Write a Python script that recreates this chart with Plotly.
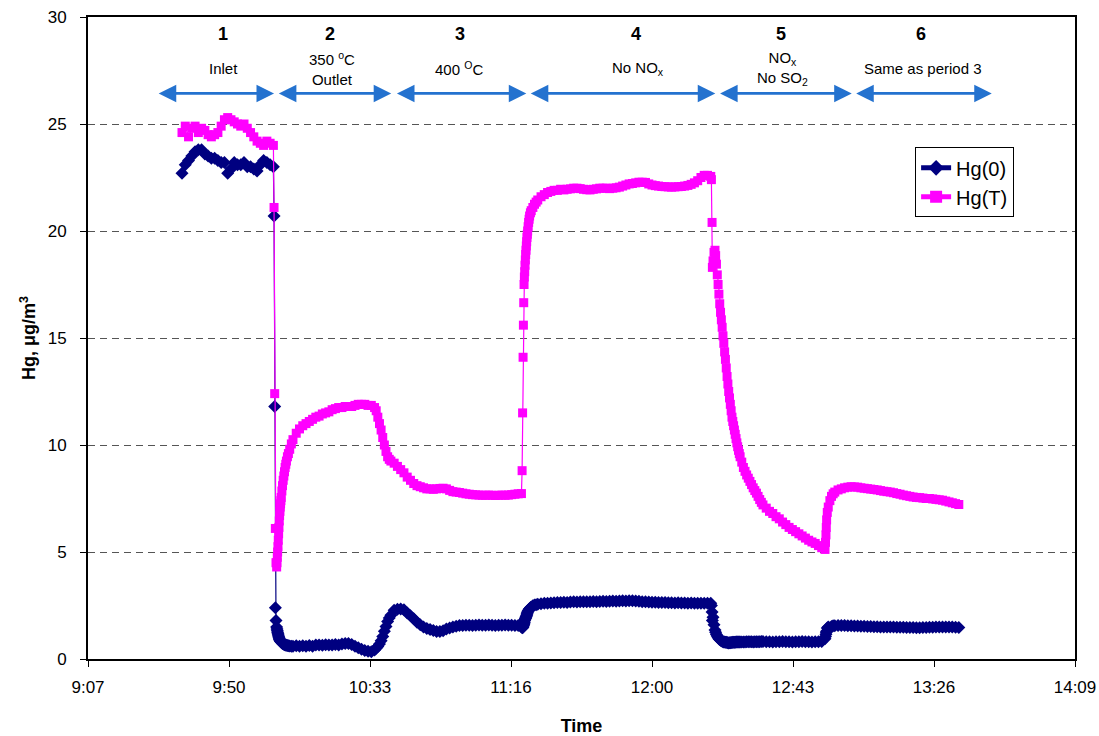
import plotly.graph_objects as go

# ---------------- data (time in minutes after midnight) ----------------
time_min = [
    576, 577, 578, 579, 580, 581, 582, 583, 584, 585, 586, 587, 588, 589, 590,
    591, 592, 593, 594, 595, 596, 597, 598, 599, 600, 601, 602, 603, 604,
    604.2, 604.4, 604.6, 604.8,
    605.0, 605.1, 605.2, 605.3, 605.4, 605.5, 605.6, 605.7, 605.8, 605.9, 606.0,
    606.1, 606.2, 606.3, 606.4, 606.6, 606.8, 607.0, 607.2, 607.4, 607.6, 607.8,
    608.0, 608.3, 608.6, 609.0, 609.5, 610.0,
    611, 612, 613, 614, 615, 616, 617, 618, 619, 620, 621, 622, 623,
    624, 625, 626, 627, 628, 629, 630, 631, 632, 633, 634,
    635, 635.5, 636, 636.5, 637, 637.5, 638, 638.5, 639, 639.5, 640,
    641, 642, 643, 644, 645, 646, 647, 648, 649, 650, 651, 652, 653,
    654, 655, 656, 657, 658, 659, 660, 661, 662, 663, 664, 665, 666, 667, 668,
    669, 670, 671, 672, 673, 674, 675, 676, 677, 678, 679, 680,
    680.2, 680.35, 680.5, 680.6, 680.7, 680.8, 680.9, 681.0, 681.1, 681.2, 681.3,
    681.4, 681.5, 681.6, 681.7, 681.8, 681.9, 682.05, 682.2, 682.35, 682.5, 682.75,
    683, 683.5, 684, 684.5, 685,
    686, 687, 688, 689, 690, 691, 692, 693, 694, 695, 696, 697, 698, 699, 700,
    701, 702, 703, 704, 705, 706, 707, 708, 709, 710, 711, 712, 713, 714, 715,
    716, 717, 718, 719, 720, 721, 722, 723, 724, 725, 726, 727, 728, 729, 730,
    731, 732, 733, 734, 735, 736, 737, 738,
    738.2, 738.4, 738.5, 738.7, 739.0,
    739.3, 739.5, 739.75, 740.0, 740.25, 740.5, 740.75, 741.0, 741.25, 741.5, 741.75,
    742.0, 742.25, 742.5, 742.75, 743.0, 743.25, 743.5, 743.75, 744.0, 744.25, 744.5,
    744.75, 745.0, 745.25, 745.5, 745.75, 746.0, 746.25, 746.5, 746.75, 747.0,
    747.5, 748.0, 748.5, 749.0, 749.5, 750.0, 750.5, 751.0, 751.5, 752.0, 752.5,
    753.0, 753.5, 754.0,
    755, 756, 757, 758, 759, 760, 761, 762,
    763, 764, 765, 766, 767, 768, 769, 770, 771, 772, 773,
    773.15, 773.3, 773.4, 773.5, 773.7, 774.0, 774.5, 775.0, 775.5,
    776, 777, 778, 779, 780, 781, 782, 783, 784, 785, 786, 787, 788, 789, 790,
    791, 792, 793, 794, 795, 796, 797, 798, 799, 800, 801, 802, 803, 804, 805,
    806, 807, 808, 809, 810, 811, 812, 813, 814,
]

hg0 = [
    22.7, 23.1, 23.3, 23.5, 23.7, 23.8, 23.8, 23.6, 23.5, 23.4, 23.4, 23.3, 23.2, 23.2, 22.7,
    22.9, 23.2, 23.1, 23.1, 23.2, 23.0, 23.0, 22.9, 22.8, 23.1, 23.3, 23.2, 23.1, 23.0,
    20.7, 11.8, 2.4, 1.8,
    1.5, 1.4, 1.32, 1.25, 1.18, 1.12, 1.06, 1.0, 0.95, 0.91, 0.88,
    0.85, 0.83, 0.81, 0.79, 0.76, 0.73, 0.71, 0.69, 0.68, 0.66, 0.65,
    0.64, 0.63, 0.62, 0.61, 0.6, 0.6,
    0.62, 0.6, 0.62, 0.6, 0.63, 0.6, 0.65, 0.66, 0.64, 0.67, 0.65, 0.66, 0.68,
    0.66, 0.7, 0.72, 0.72, 0.68, 0.6, 0.52, 0.45, 0.4, 0.36, 0.34,
    0.42, 0.5, 0.58, 0.7, 0.85, 1.05, 1.3, 1.52, 1.75, 1.92, 2.05,
    2.28, 2.33, 2.34, 2.3, 2.15, 2.02, 1.88, 1.72, 1.6, 1.5, 1.43, 1.38, 1.33,
    1.29, 1.28, 1.32, 1.4, 1.45, 1.5, 1.53, 1.56, 1.57, 1.58, 1.58, 1.57, 1.58, 1.59, 1.58,
    1.58, 1.59, 1.58, 1.57, 1.58, 1.58, 1.59, 1.58, 1.58, 1.57, 1.56, 1.5,
    1.47, 1.46, 1.5, 1.55, 1.6, 1.65, 1.72, 1.8, 1.85, 1.89, 1.92,
    1.96, 2.0, 2.05, 2.1, 2.15, 2.2, 2.24, 2.28, 2.32, 2.35, 2.4,
    2.43, 2.49, 2.52, 2.54, 2.56,
    2.58, 2.6, 2.61, 2.62, 2.63, 2.64, 2.64, 2.65, 2.64, 2.66, 2.67, 2.66, 2.67, 2.68, 2.67,
    2.68, 2.69, 2.68, 2.69, 2.7, 2.69, 2.7, 2.71, 2.7, 2.71, 2.72, 2.71, 2.72, 2.72, 2.71,
    2.7, 2.68, 2.67, 2.66, 2.65, 2.65, 2.64, 2.64, 2.64, 2.63, 2.63, 2.62, 2.63, 2.62, 2.62,
    2.61, 2.62, 2.61, 2.61, 2.6, 2.6, 2.61, 2.6,
    2.5, 2.2, 1.8, 1.95, 1.6,
    1.35, 1.25, 1.15, 1.08, 1.01, 0.95, 0.91, 0.88, 0.85, 0.83, 0.81,
    0.8, 0.79, 0.78, 0.78, 0.77, 0.76, 0.75, 0.76, 0.76, 0.77, 0.77,
    0.78, 0.78, 0.78, 0.78, 0.79, 0.79, 0.79, 0.79, 0.8, 0.8,
    0.8, 0.8, 0.8, 0.81, 0.81, 0.81, 0.81, 0.8, 0.81, 0.81, 0.81,
    0.81, 0.82, 0.82,
    0.81, 0.81, 0.8, 0.81, 0.81, 0.82, 0.81, 0.81,
    0.8, 0.81, 0.81, 0.82, 0.81, 0.81, 0.8, 0.81, 0.81, 0.82, 0.95,
    1.05, 1.16, 1.25, 1.3, 1.45, 1.5, 1.45, 1.52, 1.55,
    1.55, 1.56, 1.56, 1.56, 1.55, 1.55, 1.54, 1.54, 1.53, 1.53, 1.52, 1.52, 1.51, 1.51, 1.5,
    1.5, 1.5, 1.49, 1.49, 1.48, 1.48, 1.48, 1.47, 1.47, 1.47, 1.46, 1.46, 1.47, 1.47, 1.48,
    1.48, 1.49, 1.49, 1.5, 1.5, 1.49, 1.49, 1.48, 1.47,
]

hgT = [
    24.6, 24.9, 24.4, 24.8, 24.9, 24.6, 24.8, 24.7, 24.5, 24.4, 24.5, 24.6, 24.9, 25.2, 25.3,
    25.2, 25.1, 25.0, 24.9, 25.0, 24.8, 24.6, 24.4, 24.2, 24.1, 24.0, 24.2, 24.1, 24.0,
    21.1, 12.4, 6.1, 4.5,
    4.3, 4.5, 4.75, 5.0, 5.25, 5.55, 5.85, 6.15, 6.45, 6.7, 6.9,
    7.1, 7.25, 7.4, 7.55, 7.85, 8.1, 8.35, 8.55, 8.75, 8.95, 9.1,
    9.25, 9.45, 9.6, 9.8, 10.05, 10.25,
    10.55, 10.75, 10.9, 11.0, 11.1, 11.2, 11.3, 11.35, 11.45, 11.5, 11.55, 11.65, 11.7,
    11.75, 11.75, 11.8, 11.8, 11.8, 11.85, 11.9, 11.9, 11.9, 11.85, 11.85,
    11.75, 11.6, 11.3, 11.0, 10.7, 10.35, 10.0, 9.7, 9.45, 9.33, 9.25,
    9.15, 9.0, 8.85, 8.7, 8.5, 8.35, 8.2, 8.1, 8.05, 8.0, 7.95, 7.95, 7.93,
    7.95, 7.97, 7.98, 7.95, 7.88, 7.82, 7.8, 7.78, 7.75, 7.72, 7.7, 7.68, 7.67, 7.66, 7.65,
    7.65, 7.66, 7.65, 7.64, 7.65, 7.66, 7.65, 7.66, 7.68, 7.7, 7.72, 7.73,
    8.8, 11.5, 14.1, 15.6, 16.65, 17.5, 17.85, 18.1, 18.4, 18.65, 18.9,
    19.1, 19.3, 19.5, 19.7, 19.85, 20.0, 20.2, 20.4, 20.55, 20.7, 20.85,
    20.95, 21.1, 21.25, 21.35, 21.45,
    21.6, 21.7, 21.8, 21.85, 21.9, 21.9, 21.95, 21.92, 21.95, 21.97, 22.0, 22.0, 21.98, 21.95, 21.93,
    21.92, 21.95, 21.97, 22.0, 22.0, 22.0, 21.98, 22.0, 22.02, 22.05, 22.1, 22.15, 22.2, 22.22, 22.25,
    22.28, 22.28, 22.27, 22.2, 22.15, 22.12, 22.1, 22.08, 22.07, 22.06, 22.05, 22.06, 22.07, 22.08, 22.1,
    22.13, 22.18, 22.25, 22.35, 22.5, 22.6, 22.6, 22.55,
    22.4, 20.4, 18.3, 18.6, 19.0,
    19.1, 18.85, 18.45, 17.95, 17.5, 17.05, 16.6, 16.2, 15.85, 15.5, 15.1,
    14.75, 14.35, 14.0, 13.6, 13.2, 12.85, 12.5, 12.2, 11.9, 11.6, 11.3,
    11.1, 10.9, 10.7, 10.5, 10.3, 10.1, 9.92, 9.75, 9.6, 9.45,
    9.2, 8.95, 8.77, 8.6, 8.45, 8.3, 8.15, 8.0, 7.87, 7.75, 7.6,
    7.45, 7.32, 7.2,
    7.05, 6.9, 6.8, 6.65, 6.55, 6.4, 6.28, 6.15,
    6.05, 5.95, 5.85, 5.75, 5.65, 5.55, 5.47, 5.4, 5.3, 5.2, 5.12,
    5.45, 5.8, 6.15, 6.5, 6.85, 7.1, 7.4, 7.6, 7.72,
    7.8, 7.9, 7.95, 8.0, 8.03, 8.05, 8.04, 8.03, 8.0, 7.98, 7.96, 7.94, 7.92, 7.9, 7.87,
    7.84, 7.82, 7.8, 7.77, 7.73, 7.7, 7.66, 7.63, 7.6, 7.57, 7.55, 7.54, 7.52, 7.5, 7.5,
    7.48, 7.46, 7.44, 7.42, 7.38, 7.34, 7.3, 7.26, 7.22,
]

assert len(time_min) == len(hg0) == len(hgT), (len(time_min), len(hg0), len(hgT))

tick_labels = ["9:07", "9:50", "10:33", "11:16", "12:00", "12:43", "13:26", "14:09"]
tick_vals = [547.2, 590.4, 633.6, 676.8, 720.0, 763.2, 806.4, 849.6]

period_numbers = ["1", "2", "3", "4", "5", "6"]
period_number_x = [588.6, 621.4, 661.3, 715.0, 759.4, 802.4]
period_labels = ["Inlet", "350 <sup>o</sup>C<br>Outlet", "400 <sup>O</sup>C",
                 "No NO<sub>x</sub>", "NO<sub>x</sub><br>No SO<sub>2</sub>", "Same as period 3"]
period_label_x = [588.6, 622.0, 661.0, 715.6, 760.1, 803.0]
period_start = [568.4, 605.2, 641.4, 682.4, 740.4, 782.1]
period_end = [604.2, 640.1, 681.5, 739.4, 781.2, 824.1]

# ---------------- figure ----------------
FONT = "Liberation Sans, Arial, sans-serif"
NAVY = "#000080"
MAGENTA = "#FF00FF"
BLUE = "#2472CF"

fig = go.Figure()
fig.add_trace(go.Scatter(
    x=time_min, y=hg0, name="Hg(0)", mode="lines+markers",
    line=dict(color=NAVY, width=1.2),
    marker=dict(symbol="diamond", size=10, color=NAVY),
))
fig.add_trace(go.Scatter(
    x=time_min, y=hgT, name="Hg(T)", mode="lines+markers",
    line=dict(color=MAGENTA, width=1.2),
    marker=dict(symbol="square", size=9, color=MAGENTA),
))

annotations = []
for i in range(len(period_numbers)):
    annotations.append(dict(x=period_number_x[i], y=29.2, xref="x", yref="y",
                            text="<b>%s</b>" % period_numbers[i], showarrow=False,
                            font=dict(family=FONT, size=18, color="black")))
    annotations.append(dict(x=period_label_x[i], y=27.6, xref="x", yref="y",
                            text=period_labels[i], showarrow=False,
                            font=dict(family=FONT, size=15, color="black")))
    annotations.append(dict(x=period_end[i], y=26.43, ax=period_start[i], ay=26.43,
                            xref="x", yref="y", axref="x", ayref="y", text="",
                            showarrow=True, arrowside="end+start",
                            arrowhead=2, startarrowhead=2, arrowsize=1.3, startarrowsize=1.3,
                            arrowwidth=2.7, arrowcolor=BLUE))

fig.update_layout(
    width=1099, height=736,
    margin=dict(l=88, r=24, t=17, b=77),
    paper_bgcolor="white", plot_bgcolor="white",
    font=dict(family=FONT, size=17, color="black"),
    showlegend=True,
    legend=dict(x=0.838, y=0.797, xanchor="left", yanchor="top",
                bordercolor="black", borderwidth=1, bgcolor="white",
                font=dict(family=FONT, size=20), tracegroupgap=0,
                itemsizing="constant"),
    annotations=annotations,
)
fig.update_xaxes(
    range=[547.2, 849.6], tickmode="array", tickvals=tick_vals, ticktext=tick_labels,
    showgrid=False, zeroline=False, showline=True, linecolor="black", linewidth=2,
    mirror=True, ticks="outside", ticklen=6, tickcolor="black", tickwidth=1,
    tickfont=dict(family=FONT, size=17), ticklabelstandoff=6,
    title=dict(text="<b>Time</b>", font=dict(family=FONT, size=18), standoff=26),
    automargin=False,
)
fig.update_yaxes(
    range=[0, 30], tickmode="array", tickvals=[0, 5, 10, 15, 20, 25, 30],
    showgrid=True, gridcolor="#555555", gridwidth=1, griddash="7px,5px",
    zeroline=False, showline=True, linecolor="black", linewidth=2,
    mirror=True, ticks="outside", ticklen=6, tickcolor="black", tickwidth=1,
    tickfont=dict(family=FONT, size=17), ticklabelstandoff=10,
    title=dict(text="<b>Hg, μg/m<sup>3</sup></b>", font=dict(family=FONT, size=18), standoff=7),
    automargin=False,
)

fig.write_html("out.html")
